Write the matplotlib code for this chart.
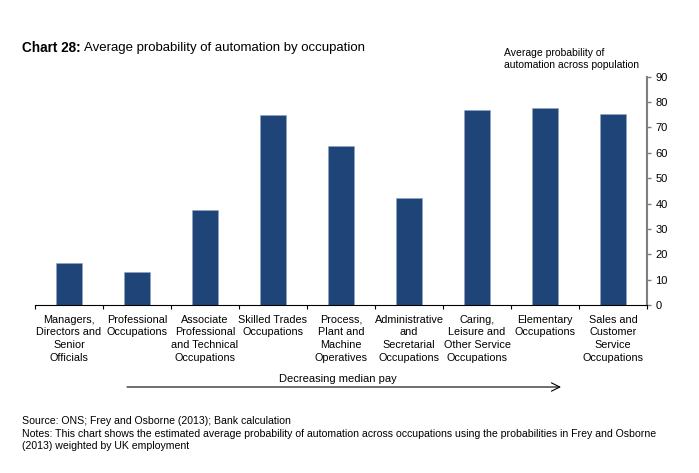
import matplotlib
matplotlib.use("Agg")
import matplotlib.pyplot as plt

plt.rcParams['font.family'] = ['Liberation Sans', 'DejaVu Sans']

categories = [
    "Managers,\nDirectors and\nSenior\nOfficials",
    "Professional\nOccupations",
    "Associate\nProfessional\nand Technical\nOccupations",
    "Skilled Trades\nOccupations",
    "Process,\nPlant and\nMachine\nOperatives",
    "Administrative\nand\nSecretarial\nOccupations",
    "Caring,\nLeisure and\nOther Service\nOccupations",
    "Elementary\nOccupations",
    "Sales and\nCustomer\nService\nOccupations",
]
values = [16.7, 13.1, 37.4, 75.0, 62.8, 42.0, 76.9, 77.6, 75.2]
yticks = [0, 10, 20, 30, 40, 50, 60, 70, 80, 90]

W, H = 699, 473
fig = plt.figure(figsize=(W / 100, H / 100), dpi=100)
ax = fig.add_axes([35 / W, 1 - 305 / H, (647 - 35) / W, (305 - 76.7) / H])

x = list(range(len(categories)))
ax.bar(x, values, width=0.39, color='#1f4578', edgecolor='#8fa6c4', linewidth=0.4)
ax.set_xlim(-0.5, len(categories) - 0.5)
ax.set_ylim(0, 90)

ax.yaxis.tick_right()
ax.set_yticks(yticks)
ax.tick_params(axis='y', direction='out', length=3, width=1, colors='#000000', labelsize=8, pad=3)
for spine in ['left', 'top']:
    ax.spines[spine].set_visible(False)
ax.spines['right'].set_color('#7f7f7f')
ax.spines['right'].set_linewidth(1.5)
ax.spines['bottom'].set_color('#000000')
ax.spines['bottom'].set_linewidth(0.8)
ax.tick_params(axis='y', color='#7f7f7f')

# category separators as minor ticks
ax.set_xticks([i - 0.5 for i in range(len(categories) + 1)], minor=True)
ax.set_xticks(x)
ax.set_xticklabels(categories, fontsize=7.8, linespacing=1.33)
ax.tick_params(axis='x', which='major', length=0, pad=7)
ax.tick_params(axis='x', which='minor', length=3, direction='out', width=0.8)

fig.text(22 / W, 1 - 48 / H, "Chart 28:", fontsize=9.8, fontweight='bold', va='center', ha='left')
fig.text(84 / W, 1 - 48 / H, "Average probability of automation by occupation", fontsize=9.5,
         va='center', ha='left')
fig.text(504 / W, 1 - 59 / H, "Average probability of\nautomation across population", fontsize=7.5,
         va='center', ha='left', linespacing=1.25)

fig.text(338 / W, 1 - 379 / H, "Decreasing median pay", fontsize=8, ha='center', va='center')
fig.add_artist(matplotlib.patches.FancyArrowPatch(
    (127 / W, 1 - 387 / H), (561 / W, 1 - 387 / H), transform=fig.transFigure,
    arrowstyle='->,head_length=6,head_width=3', color='black', linewidth=0.8,
    shrinkA=0, shrinkB=0))

fig.text(22 / W, 1 - 421 / H, "Source: ONS; Frey and Osborne (2013); Bank calculation",
         fontsize=7.6, ha='left', va='center')
fig.text(22 / W, 1 - 440 / H,
         "Notes: This chart shows the estimated average probability of automation across occupations using the probabilities in Frey and Osborne\n(2013) weighted by UK employment",
         fontsize=7.6, ha='left', va='center', linespacing=1.15)

fig.savefig("out.png", dpi=100)
